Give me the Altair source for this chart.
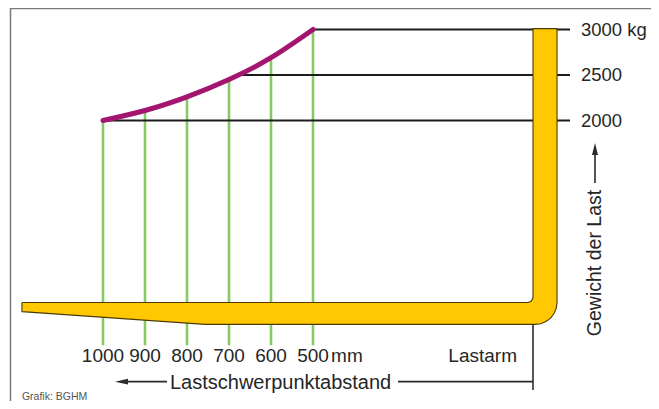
import altair as alt
import pandas as pd

# ---- data ----
distance_mm = [1000, 900, 800, 700, 600, 500]
load_kg = [2000, 2110, 2260, 2450, 2690, 3000]
distance_labels = ["1000", "900", "800", "700", "600", "500"]

weight_levels = [3000, 2500, 2000]
weight_labels = ["3000 kg", "2500", "2000"]
level_start_mm = [500, 681, 1000]
level_end_mm = -112

# fork outline (blade + heel + upright) in diagram units (mm, kg)
fork_x_mm = [1193, -12, -20.3, -23.8, -23.8, -81, -81, -79.2, -73.9, -65.6,
             -54.8, -42.1, -28.6, 757, 1193, 1193]
fork_y_kg = [0, 0, 16, 55, 3010, 3010, 0, -62.5, -121, -171,
             -209, -233.5, -240, -240, -100, 0]

W, H = 643, 393
xs = alt.Scale(domain=[-304.76, 1226.19], reverse=True, nice=False, zero=False)
ys = alt.Scale(domain=[-1082.4, 3236.3], nice=False, zero=False)


def X(f, **k):
    return alt.X(f, type="quantitative", scale=xs, axis=None, **k)


def Y(f, **k):
    return alt.Y(f, type="quantitative", scale=ys, axis=None, **k)


FONT = "Liberation Sans"
TXT = "#262626"

curve_df = pd.DataFrame({"d": distance_mm, "kg": load_kg, "lab": distance_labels})
curve_df["low"] = -470
curve_df["laby"] = -588

levels_df = pd.DataFrame({"kg": weight_levels, "lab": weight_labels,
                          "start": level_start_mm})
levels_df["end"] = level_end_mm
levels_df["lx"] = -138

fork_df = pd.DataFrame({"d": fork_x_mm, "kg": fork_y_kg,
                        "i": list(range(len(fork_x_mm)))})

# frame
frame_top = alt.Chart(pd.DataFrame({"a": [0]})).mark_rule(
    color="#7a7a7a", strokeWidth=1.5).encode(
    x=alt.value(2), x2=alt.value(W), y=alt.value(0.5))
frame_left = alt.Chart(pd.DataFrame({"a": [0]})).mark_rule(
    color="#7a7a7a", strokeWidth=1.5).encode(
    x=alt.value(2.5), y=alt.value(0), y2=alt.value(H))

green = alt.Chart(curve_df).mark_rule(color="#88C865", strokeWidth=2.6).encode(
    x=X("d"), y=Y("kg"), y2="low")

black = alt.Chart(levels_df).mark_rule(color="#1c1c1c", strokeWidth=2.2).encode(
    x=X("start"), x2="end", y=Y("kg"))

curve = alt.Chart(curve_df).mark_line(
    color="#A3156F", strokeWidth=5, interpolate="natural", strokeCap="round"
).encode(x=X("d"), y=Y("kg"), order="d:Q")

fork = alt.Chart(fork_df).mark_line(
    fill="#FFC800", stroke="#4B3A05", strokeWidth=1.1, strokeJoin="round"
).encode(x=X("d"), y=Y("kg"), order="i:Q")

right_labels = alt.Chart(levels_df).mark_text(
    align="left", baseline="middle", font=FONT, fontSize=18.5, color=TXT
).encode(x=X("lx"), y=Y("kg"), text="lab")

bottom_labels = alt.Chart(curve_df).mark_text(
    align="center", baseline="middle", font=FONT, fontSize=19, color=TXT
).encode(x=X("d"), y=Y("laby"), text="lab")

notes_df = pd.DataFrame({
    "d": [457, 14.3, 840.5, 1193],
    "kg": [-588, -588, -950.5, -1038.5],
    "t": ["mm", "Lastarm", "Lastschwerpunktabstand", "Grafik: BGHM"],
})
mm_txt = alt.Chart(notes_df.iloc[[0]]).mark_text(
    align="left", baseline="middle", font=FONT, fontSize=19, color=TXT
).encode(x=X("d"), y=Y("kg"), text="t")
lastarm_txt = alt.Chart(notes_df.iloc[[1]]).mark_text(
    align="right", baseline="middle", font=FONT, fontSize=19, color=TXT
).encode(x=X("d"), y=Y("kg"), text="t")
lsp_txt = alt.Chart(notes_df.iloc[[2]]).mark_text(
    align="left", baseline="alphabetic", font=FONT, fontSize=20, color=TXT
).encode(x=X("d"), y=Y("kg"), text="t")
credit_txt = alt.Chart(notes_df.iloc[[3]]).mark_text(
    align="left", baseline="middle", font=FONT, fontSize=10.5, color="#555555"
).encode(x=X("d"), y=Y("kg"), text="t")

gewicht_txt = alt.Chart(pd.DataFrame({"d": [-171.4], "kg": [434],
                                      "t": ["Gewicht der Last"]})).mark_text(
    align="center", baseline="middle", angle=270, font=FONT, fontSize=19.5,
    color=TXT
).encode(x=X("d"), y=Y("kg"), text="t")

# bracket / arrows
seg_df = pd.DataFrame({
    "x1": [-23.8, 297.6, 947.6, -171.4],
    "x2": [-23.8, -23.8, 847.6, -171.4],
    "y1": [-240, -870, -870, 1313],
    "y2": [-961, -870, -870, 1650],
})
segs = alt.Chart(seg_df).mark_rule(color="#2b2b2b", strokeWidth=1.6).encode(
    x=X("x1"), x2="x2", y=Y("y1"), y2="y2")

left_head = alt.Chart(pd.DataFrame({"d": [956], "kg": [-870]})).mark_point(
    shape="M-1,0L1,-0.45L1,0.45Z", size=169, filled=True, color="#2b2b2b",
    opacity=1
).encode(x=X("d"), y=Y("kg"))
up_head = alt.Chart(pd.DataFrame({"d": [-171.4], "kg": [1686.8]})).mark_point(
    shape="M0,-1L0.5,1L-0.5,1Z", size=144, filled=True, color="#2b2b2b",
    opacity=1
).encode(x=X("d"), y=Y("kg"))

chart = alt.layer(
    frame_top, frame_left, green, black, curve, fork,
    right_labels, bottom_labels, mm_txt, lastarm_txt, lsp_txt, credit_txt,
    gewicht_txt, segs, left_head, up_head,
).properties(
    width=W, height=H, padding=0,
    autosize=alt.AutoSizeParams(type="none"),
    background="white",
).configure_view(stroke=None)

chart.save("out.html", embed_options={"renderer": "svg", "actions": False})
